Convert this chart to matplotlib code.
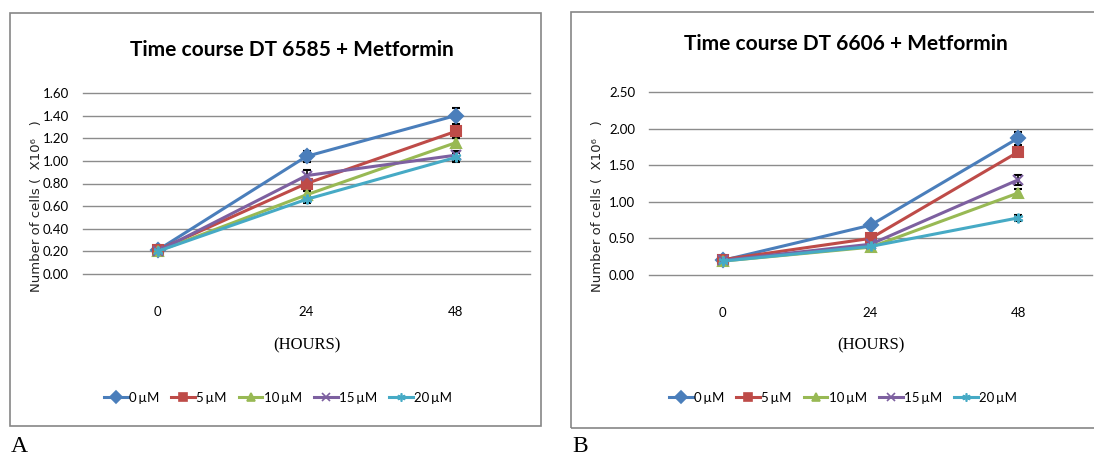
"""Time course of DT 6585 / DT 6606 cells under metformin"""
import matplotlib
matplotlib.use('Agg')
import matplotlib.pyplot as plt
from matplotlib.lines import Line2D
from matplotlib.patches import Rectangle
import numpy as np

W, H = 1094, 458
NARROW = ['Lato', 'DejaVu Sans']

hours = ['0', '24', '48']
doses = ['0\u2009µM', '5\u2009µM', '10\u2009µM', '15\u2009µM', '20\u2009µM']
colors = ['#4a7ebb', '#be4b48', '#98b954', '#7d60a0', '#46aac5']
markers = ['D', 's', '^', 'x', (6, 2, 0)]

# DT 6585
a_values = [[0.21, 1.04, 1.40],
            [0.21, 0.80, 1.26],
            [0.20, 0.70, 1.16],
            [0.20, 0.87, 1.05],
            [0.20, 0.66, 1.03]]
a_errors = [[0.0, 0.05, 0.07],
            [0.0, 0.04, 0.06],
            [0.0, 0.03, 0.04],
            [0.0, 0.05, 0.04],
            [0.0, 0.03, 0.04]]
# DT 6606
b_values = [[0.20, 0.68, 1.87],
            [0.21, 0.50, 1.68],
            [0.19, 0.38, 1.12],
            [0.20, 0.42, 1.30],
            [0.19, 0.39, 0.78]]
b_errors = [[0.0, 0.03, 0.09],
            [0.0, 0.03, 0.06],
            [0.0, 0.02, 0.06],
            [0.0, 0.02, 0.07],
            [0.0, 0.02, 0.04]]


def px_axes(fig, x0, x1, ytop, ybot):
    return fig.add_axes([x0 / W, 1 - ybot / H, (x1 - x0) / W, (ybot - ytop) / H])


def draw_panel(fig, box, plot, title_xy, legend_x, title, values, errors, ymax, ystep, letter):
    bx0, by0, bx1, by1 = box
    fig.patches.append(Rectangle((bx0 / W, 1 - by1 / H), (bx1 - bx0) / W, (by1 - by0) / H,
                                 transform=fig.transFigure, fill=False,
                                 edgecolor='#868686', lw=1.2))
    x0, x1, ytop, ybot = plot
    ax = px_axes(fig, x0, x1, ytop, ybot)
    x = np.arange(len(hours))
    handles = []
    for vals, errs, c, m, lab in zip(values, errors, colors, markers, doses):
        ax.errorbar(x, vals, yerr=errs, color=c, marker=m, markersize=7,
                    markeredgewidth=1.5, lw=2.2, ecolor='black', elinewidth=1.2,
                    capsize=3, capthick=1.2, zorder=3)
        handles.append(Line2D([], [], color=c, marker=m, markersize=6,
                              markeredgewidth=1.2, lw=2.2, label=lab))
    ax.set_xlim(-0.5, len(hours) - 0.5)
    ax.set_ylim(0, ymax)
    ticks = np.arange(0, ymax + 1e-9, ystep)
    ax.set_yticks(ticks)
    ax.set_yticklabels([f'{v:.2f}' for v in ticks], family=NARROW, fontsize=9.5)
    ax.set_xticks(x)
    ax.set_xticklabels(hours, family=NARROW, fontsize=9.5)
    ax.tick_params(length=0)
    ax.tick_params(axis='x', pad=23)
    ax.tick_params(axis='y', pad=10)
    ax.grid(axis='y', color='#8c8c8c', lw=1.0)
    for gl in ax.get_ygridlines():
        gl.set_clip_on(False)
    ax.set_axisbelow(True)
    for s in ax.spines.values():
        s.set_visible(False)
    ax.patch.set_alpha(0)

    cx = (x0 + x1) / 2
    fig.text(title_xy[0] / W, 1 - title_xy[1] / H, title, ha='center', va='center',
             family=NARROW, fontweight='bold', fontsize=15)
    fig.text((bx0 + 27) / W, 1 - 206 / H, 'Number of cells (  X10⁶   )',
             rotation=90, ha='center', va='center', fontsize=9.5, color='#222222')
    fig.text(cx / W, 1 - 345 / H, '(HOURS)', ha='center', va='center',
             family='Liberation Serif', fontsize=12)
    fig.legend(handles=handles, loc='center', bbox_to_anchor=(legend_x / W, 1 - 398 / H),
               ncol=5, frameon=False, prop={'family': NARROW, 'size': 9.5},
               handlelength=1.8, handletextpad=0.1, columnspacing=0.9)
    fig.text((bx0 + 1) / W, 1 - 446 / H, letter, ha='left', va='center',
             family='Liberation Serif', fontsize=17)


fig = plt.figure(figsize=(W / 100, H / 100), dpi=100)
draw_panel(fig, (10, 13, 541, 426), (83, 530, 93, 274), (292, 50), 278,
           'Time course DT 6585 + Metformin', a_values, a_errors, 1.6, 0.2, 'A')
draw_panel(fig, (571, 12, 1130, 428), (649, 1092, 92, 275), (846, 44), 843,
           'Time course DT 6606 + Metformin', b_values, b_errors, 2.5, 0.5, 'B')
fig.savefig('out.png', dpi=100)
